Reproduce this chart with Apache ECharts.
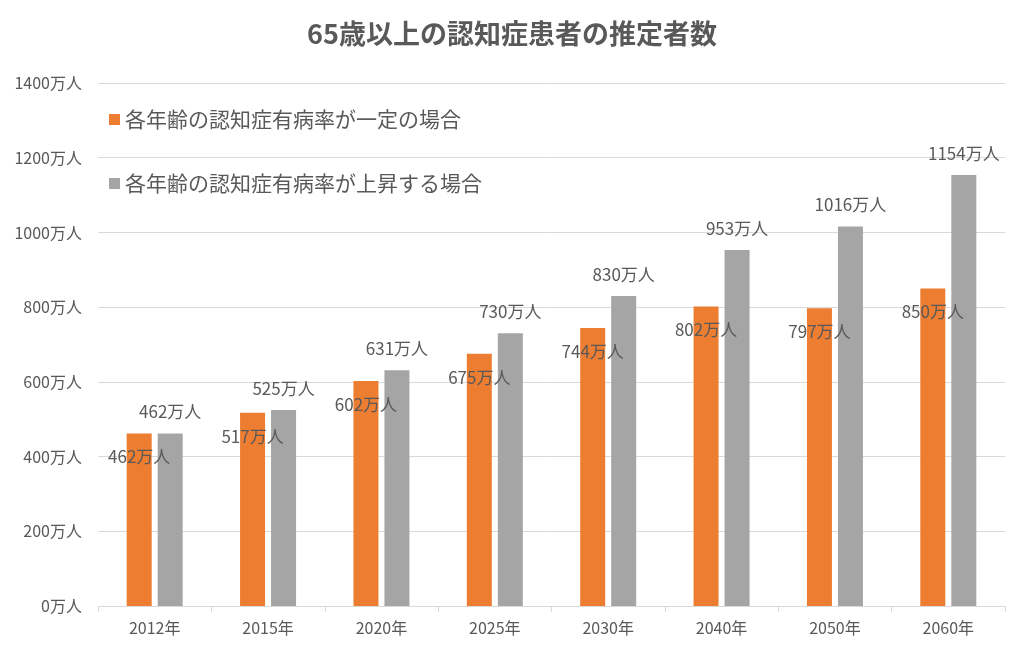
<!DOCTYPE html>
<html><head><meta charset="utf-8">
<script src="https://cdn.jsdelivr.net/npm/echarts@6/dist/echarts.min.js"></script>
<style>html,body{margin:0;padding:0;background:#fff}#c{width:1024px;height:659px}</style>
</head><body><div id="c"></div>
<script>
const categories = ['2012年','2015年','2020年','2025年','2030年','2040年','2050年','2060年'];
const constantRate = [462,517,602,675,744,802,797,850];
const risingRate = [462,525,631,730,830,953,1016,1154];
const seriesNames = ['各年齢の認知症有病率が一定の場合','各年齢の認知症有病率が上昇する場合'];
const titleText = '65歳以上の認知症患者の推定者数';

const FONT = '"Noto Sans CJK JP", "Noto Sans", sans-serif';
const TXT = '#595959';
const chart = echarts.init(document.getElementById('c'));
chart.setOption({
  animation:false,
  textStyle:{fontFamily:FONT},
  title:{text:titleText,left:'center',top:15,textStyle:{fontFamily:FONT,fontSize:27,fontWeight:'bold',color:TXT}},
  legend:{orient:'vertical',left:104,top:104,itemGap:43,itemWidth:11,itemHeight:11,icon:'rect',
    textStyle:{fontFamily:FONT,fontSize:21,color:TXT}},
  grid:{left:98,right:19,top:83,bottom:53,containLabel:false},
  xAxis:{type:'category',data:categories,
    axisLine:{lineStyle:{color:'#d9d9d9'}},
    axisTick:{show:true,length:6,lineStyle:{color:'#d9d9d9'}},
    axisLabel:{fontFamily:FONT,fontSize:16,color:TXT,margin:14}},
  yAxis:{type:'value',min:0,max:1400,interval:200,
    axisLine:{show:false},axisTick:{show:false},
    splitLine:{lineStyle:{color:'#d9d9d9'}},
    axisLabel:{fontFamily:FONT,fontSize:16,color:TXT,margin:16,formatter:v=>v+'万人'}},
  series:[
    {name:seriesNames[0],type:'bar',data:constantRate,barWidth:25,barGap:'24%',
      itemStyle:{color:'#ed7d31'},
      label:{show:true,position:'insideTop',distance:15,formatter:p=>p.value+'万人',
        fontFamily:FONT,fontSize:17,color:TXT}},
    {name:seriesNames[1],type:'bar',data:risingRate,barWidth:25,
      itemStyle:{color:'#a5a5a5'},
      label:{show:true,position:'top',distance:13,formatter:p=>p.value+'万人',
        fontFamily:FONT,fontSize:17,color:TXT}}
  ]
});
</script></body></html>
